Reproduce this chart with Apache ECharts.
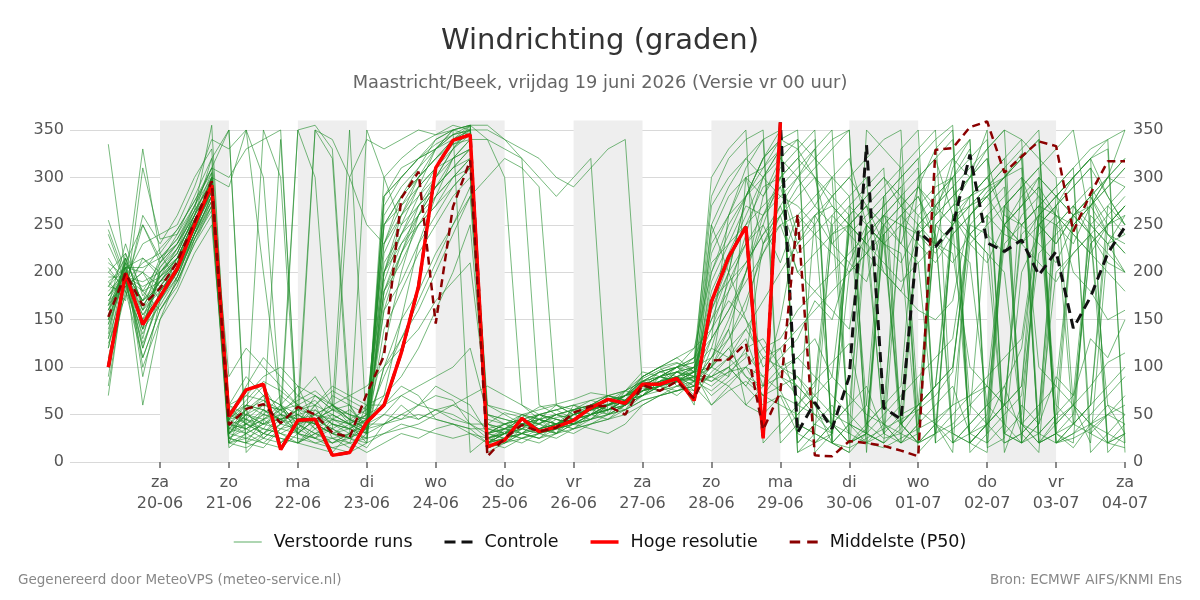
<!DOCTYPE html>
<html>
<head>
<meta charset="utf-8">
<script src="https://cdn.jsdelivr.net/npm/echarts@6/dist/echarts.min.js"></script>
<style>
html, body { margin: 0; padding: 0; background: #fff; }
#chart { width: 1200px; height: 600px; }
</style>
</head>
<body>
<div id="chart"></div>
<script>
// 6-uurlijkse waarden vanaf vr 19-06 06:00 t/m za 04-07 00:00 (uren t.o.v. za 20-06 00:00)
var firstHour = -18;
var stepHours = 6;
var dayTicks = [0, 24, 48, 72, 96, 120, 144, 168, 192, 216, 240, 264, 288, 312, 336];
var shadedDays = [0, 2, 4, 6, 8, 10, 12];
var yTicks = [0, 50, 100, 150, 200, 250, 300, 350];
var dayNames = ['zo', 'ma', 'di', 'wo', 'do', 'vr', 'za'];

var hogeResolutie = [100, 199, 145, 174, 204, 250, 292, 48, 76, 82, 13, 44, 45, 7, 10, 42, 60, 115, 185, 310,
    339, 345, 16, 23, 46, 32, 37, 44, 57, 66, 62, 82, 82, 88, 65, 169, 216, 248, 25, 358];

var controle = [100, 199, 145, 174, 204, 250, 292, 48, 76, 82, 13, 44, 45, 7, 10, 42, 60, 115, 185, 310,
    339, 345, 16, 23, 46, 32, 37, 44, 57, 66, 62, 82, 82, 88, 65, 169, 216, 248, 25, 358,
    31, 63, 35, 90, 334, 57, 45, 243, 227, 248, 324, 231, 222, 234, 197, 222, 141, 174, 220, 248];

var middelste = [153, 199, 165, 183, 211, 253, 296, 39, 56, 61, 41, 58, 50, 31, 26, 72, 112, 278, 306, 146,
    269, 318, 6, 25, 39, 32, 36, 52, 59, 59, 50, 81, 75, 85, 67, 107, 108, 125, 34, 74,
    261, 7, 6, 22, 20, 17, 12, 6, 329, 331, 353, 359, 305, 322, 338, 333, 243, 283, 317, 317];

var run01 = [175,195,160,190,215,255,290, 45,60,55,40,35,50,30,25,40, 70,150,230,280,320,340, 20,30,45,35,40,50,60,55,65,80,85,90,70, 95,110,130,80,150, 250,270,300,20,35,240,260,280,230,310,340,15,25,200,240,260,250,270,300,290];
var run02 = [140,200,120,180,205,245,300, 30,55,70,20,40,60,25,15,30, 40,60,45,55,50,40, 30,25,40,35,30,45,55,60,70,75,80,95,85, 110,140,200,260,290, 310,330,20,40,60,280,300,320,20,35,50,260,240,230,250,270,200,180,150,160];
var run03 = [200,185,250,210,230,270,310, 350,20,45,60,30,55,40,35,45, 120,200,260,300,330,355, 15,25,35,40,30,50,55,65,60,85,80,90,75, 120,180,240,300,330, 20,40,60,30,350,330,310,60,80,100,250,240,220,260,280,30,15,40,60,50];
var run04 = [160,210,90,170,200,240,280, 20,60,80,50,45,40,70,60,30, 180,230,250,270,290,310, 40,35,30,25,40,45,60,55,70,80,75,85,90, 80,95,100,70,60, 50,70,90,240,260,280,40,20,30,250,270,290,310,20,40,200,220,240,60,30];
var run05 = [120,190,330,220,190,230,270, 40,35,50,70,55,35,20,30,350, 300,250,270,290,310,330, 50,40,30,45,60,55,50,70,65,90,100,80,75, 200,250,280,310,340, 350,10,30,200,220,250,270,290,330,350,20,40,80,120,250,270,300,320,280,250];
var run06 = [190,205,140,200,220,260,300, 60,90,70,60,50,35,45,40,50, 60,80,70,45,40,35, 35,30,25,30,35,40,45,50,60,70,80,85,95, 100,90,120,130,100, 90,70,50,40,30,20,35,260,280,300,60,40,20,30,50,270,290,310,20,30];
var run07 = [245,195,180,210,240,280,320, 25,40,30,45,55,60,50,40,20, 200,250,290,330,350,10, 25,30,50,40,35,55,60,50,75,70,85,90,60, 240,280,300,230,260, 280,300,230,250,270,200,180,240,260,280,300,320,30,50,250,230,260,270,240,230];
var run08 = [100,180,110,160,190,230,260, 15,30,20,35,40,25,15,10,20, 30,40,35,30,25,30, 20,15,25,20,30,35,40,45,50,60,70,75,80, 90,100,80,60,70, 60,50,40,30,20,15,25,35,45,60,70,80,60,40,30,20,25,35,50,40];
var run09 = [180,200,170,195,225,265,355, 30,45,60,55,40,30,25,20,60, 230,270,300,320,340,355, 10,20,30,25,35,40,45,55,60,75,85,95,100, 150,200,230,260,280, 300,320,340,350,10,260,250,240,230,220,100,80,60,250,270,290,310,330,340,10];
var run10 = [150,205,200,185,210,250,285, 90,120,100,80,60,70,55,50,45, 180,210,250,280,300,320, 60,50,40,45,50,55,60,65,70,85,95,100,110, 130,160,190,220,250, 200,180,160,140,250,270,290,20,40,60,230,250,270,290,100,80,60,40,30,20];
var run11 = [130,215,100,150,180,220,250, 35,50,45,30,20,15,10,30,45, 190,240,280,310,335,345, 20,30,35,45,40,35,50,60,55,80,90,85,100, 160,200,280,320,350, 10,30,250,270,290,310,40,60,80,240,260,280,300,320,20,40,60,230,250,270];
var run12 = [165,190,150,175,200,235,275, 50,70,65,55,45,50,60,45,35, 100,150,180,220,250,280, 30,35,40,45,50,45,55,60,65,70,75,80,90, 70,85,100,90,110, 130,170,150,210,190,250,230,290,260,320,300,350,10,60,40,90,70,130,110,150];
var run13 = [210,195,230,240,250,290,340, 330,350,300,60,40,350,320,40,50, 250,280,300,320,340,350, 30,40,35,50,55,45,60,70,65,80,90,100,95, 220,260,310,340,20, 40,30,20,260,280,300,270,250,230,210,240,260,20,30,50,280,300,320,10,30];
var run14 = [70,200,130,200,215,250,300, 40,45,30,25,20,30,35,25,15, 40,50,60,55,45,40, 40,52,47,58,61,66,73,70,62,88,97,104,99, 90,80,60,50,70, 30,20,40,60,80,30,20,40,250,230,210,60,40,20,30,50,270,250,230,200];
var run15 = [185,180,260,230,260,300,330, 60,50,40,340,30,45,55,350,30, 160,220,270,300,330,350, 20,35,50,45,30,60,55,65,75,85,80,95,90, 180,220,260,300,330, 340,320,300,280,60,40,20,250,270,300,330,20,40,300,280,260,240,220,250,270];
var run16 = [155,210,180,190,210,250,290, 45,35,25,40,55,65,45,35,25, 260,290,310,330,345,350, 350,340,320,300,280,300,320,50,60,70,90,85,95, 300,330,350,20,40, 60,80,260,240,220,200,180,160,150,170,260,280,300,320,340,20,30,50,70,90];
var run17 = [110,185,200,170,195,240,280, 25,20,15,35,50,40,30,20,10, 20,30,25,35,40,30, 25,20,30,35,40,35,45,50,55,65,70,80,85, 90,110,140,170,200, 230,260,280,300,320,340,350,10,30,260,270,280,250,230,260,280,300,30,50,70];
var run18 = [230,190,210,220,245,275,305, 50,80,110,90,70,60,75,65,55, 200,240,270,290,310,320, 45,40,50,55,60,50,55,65,70,75,85,90,100, 140,190,230,250,210, 260,240,220,200,240,260,280,300,320,260,240,220,200,40,60,80,250,270,290,310];
var run19 = [90,200,140,165,195,240,295, 30,50,40,55,60,350,340,300,250, 230,260,280,300,320,330, 40,30,35,50,45,40,60,55,65,70,85,90,80, 250,290,320,300,280, 270,250,40,20,30,280,300,320,340,355,20,40,60,80,300,280,260,240,210,200];
var run20 = [200,220,160,210,230,265,295, 40,30,55,45,35,25,20,30,40, 50,70,60,80,70,60, 30,40,45,30,35,50,55,60,65,80,90,85,95, 60,75,85,70,95, 110,130,90,70,50,40,30,20,250,270,280,290,300,310,20,30,40,60,80,100];
var run21 = [175,200,155,185,205,245,275, 35,55,65,50,40,45,50,40,30, 140,180,220,250,280,300, 25,30,40,35,45,40,50,55,60,75,80,90,85, 110,130,160,230,270, 300,330,350,20,40,60,250,230,210,240,260,280,300,320,340,20,30,40,50,60];
var run22 = [195,195,110,160,190,235,265, 20,25,35,30,25,20,15,20,25, 30,35,40,50,60,70, 80,70,60,50,45,40,35,30,40,60,70,75,80, 100,120,90,70,80, 90,60,40,20,30,50,70,90,110,130,250,270,290,40,20,30,260,280,240,220];
var run23 = [165,230,175,205,225,255,285, 55,45,35,60,80,70,55,45,35, 250,280,300,320,335,340, 340,330,320,60,50,40,45,60,70,90,100,110,95, 270,300,320,340,350, 10,20,30,270,250,230,210,250,270,290,310,330,350,20,270,260,240,220,200,180];
var run24 = [125,175,215,195,215,255,290, 40,60,50,45,30,25,35,45,55, 210,240,260,280,300,310, 20,25,30,40,50,45,55,50,60,70,80,75,85, 100,140,60,80,90, 70,50,30,250,230,260,280,40,60,80,30,20,270,290,310,330,350,250,230,240];
var run25 = [145,195,190,200,220,260,320, 350,10,30,50,70,90,60,40,30, 100,130,160,200,240,280, 300,320,310,290,60,50,55,60,70,80,90,100,110, 150,180,210,240,270, 220,240,260,280,300,60,40,20,300,320,340,30,50,70,220,240,260,280,300,320];
var run26 = [185,215,165,190,210,250,285, 45,65,85,75,60,50,40,35,45, 90,130,170,210,250,290, 30,35,45,40,50,55,60,70,75,95,90,100,105, 250,200,150,100,120, 140,160,180,200,220,240,40,20,30,50,70,90,110,130,260,280,300,320,340,350];
var run27 = [160,190,125,170,200,240,270, 30,40,55,45,50,40,30,25,35, 40,50,45,55,60,50, 35,30,40,45,40,50,55,65,60,75,80,90,95, 85,100,115,90,75, 40,30,20,15,25,35,45,55,40,30,20,10,250,270,290,260,40,30,20,15];
var run28 = [335,200,170,215,235,270,300, 60,40,350,300,20,40,60,50,40, 270,300,320,340,350,355, 355,340,330,320,300,290,310,330,340,80,90,100,120, 200,240,280,320,340, 330,300,270,250,230,210,190,210,230,250,270,290,310,330,350,20,40,60,250,270];
var run29 = [150,205,145,195,210,250,280, 25,35,45,55,65,75,60,45,35, 170,220,260,290,320,340, 50,45,40,35,40,45,50,60,75,85,95,100,90, 90,100,80,110,120, 60,85,105,125,40,25,30,55,70,95,260,285,300,325,20,45,60,80,105,115];
var run30 = [170,200,160,180,205,245,285, 50,45,40,35,30,45,55,60,50, 200,230,260,290,310,330, 25,32,38,41,47,50,56,61,64,78,76,84,88, 100,130,170,220,260, 290,310,330,350,20,40,60,240,260,280,300,320,250,230,210,190,220,240,260,280];
var run31 = [240,190,120,175,215,245,300, 290,350,200,60,30,25,45,55,40, 280,300,320,330,350,355, 20,25,30,45,35,40,60,70,65,85,95,90,80, 130,260,300,280,320, 300,270,250,40,20,30,330,350,20,260,230,210,250,280,300,40,60,20,230,260];
var run32 = [135,220,180,160,185,235,270, 20,15,25,40,350,355,330,60,35, 50,45,60,70,65,40, 25,20,35,30,40,45,50,55,65,70,80,70,85, 75,90,300,310,330, 20,40,30,250,270,230,220,20,40,10,280,300,260,250,270,30,20,280,300,350];
var run33 = [205,180,140,205,230,260,290, 30,25,20,15,30,45,35,300,340, 330,340,350,345,355,350, 30,40,45,50,40,55,65,60,70,80,95,100,85, 190,230,270,260,300, 240,260,230,210,250,30,50,60,270,290,240,220,30,20,40,250,270,240,20,40];
var run34 = [80,195,170,185,210,245,295, 60,70,90,100,80,40,30,35,50, 230,280,310,340,350,345, 15,20,25,30,35,30,40,50,55,65,70,75,80, 60,80,100,120,90, 80,60,20,10,30,240,260,280,240,20,40,60,80,30,10,250,270,290,260,240];
var run35 = [190,170,310,235,240,270,310, 40,55,25,20,35,60,80,70,60, 70,90,120,160,200,250, 40,35,30,25,30,40,50,45,55,70,80,95,110, 280,320,340,350,30, 50,70,240,250,270,290,310,330,350,20,40,60,230,250,270,290,310,10,30,50];
var run36 = [160,200,60,150,195,240,275, 35,30,40,45,50,55,40,30,25, 280,310,320,330,340,350, 30,25,20,30,25,35,40,45,60,75,85,90,100, 110,150,200,250,300, 320,340,20,10,250,230,250,270,290,300,20,40,60,240,260,250,230,270,290,310];
var run37 = [175,205,205,215,235,265,295, 45,50,60,55,350,300,60,45,40, 40,45,50,45,40,35, 20,30,40,50,45,40,50,60,65,80,90,95,85, 210,230,250,270,290, 230,250,280,300,270,250,20,40,250,270,300,330,350,340,320,300,60,40,20,30];
var run38 = [145,215,165,190,215,255,290, 25,20,30,40,60,45,35,25,20, 200,260,300,330,345,350, 25,35,40,35,40,50,45,60,70,75,80,85,90, 85,95,110,230,250, 260,280,300,320,250,230,40,60,80,100,240,260,280,300,250,230,260,280,250,270];
var run39 = [215,185,200,225,245,275,310, 300,330,340,350,20,35,50,40,30, 180,220,250,270,300,320, 35,40,45,40,50,55,60,65,70,90,100,105,95, 170,190,210,240,260, 200,220,240,260,280,300,280,260,240,30,20,40,270,290,310,20,40,60,270,250];
var run40 = [130,190,155,175,205,240,280, 50,40,35,30,40,50,60,70,80, 100,120,140,170,190,210, 60,55,50,45,40,45,50,60,70,85,90,95,100, 120,110,90,80,100, 110,90,70,50,30,20,40,60,80,260,280,300,320,340,30,50,70,250,270,290];
var run41 = [255,200,150,200,225,255,280, 55,40,30,25,20,30,40,35,30, 250,270,290,310,320,330, 20,25,30,35,30,40,50,55,60,80,75,90,95, 100,200,280,320,340, 30,260,270,250,230,40,20,30,280,300,320,340,30,20,260,280,300,320,330,20];
var run42 = [170,185,135,180,205,250,300, 40,35,45,50,45,40,30,40,60, 60,70,80,90,100,120, 50,45,40,50,55,60,65,70,75,90,100,110,120, 140,170,150,120,130, 160,180,200,220,240,260,230,210,30,40,60,80,250,270,300,280,260,240,220,200];
var run43 = [185,205,215,200,220,260,305, 30,50,70,60,40,30,20,25,35, 280,300,320,335,345,355, 340,300,60,45,40,50,55,60,70,85,90,95,90, 160,210,250,290,300, 320,300,280,260,40,60,80,300,320,340,10,30,250,270,290,60,40,260,240,220];
var run44 = [165,200,170,190,200,245,285, 20,30,40,50,30,20,25,30,40, 220,260,290,310,330,345, 20,30,25,35,40,45,55,60,65,75,90,85,95, 130,160,200,280,310, 330,350,20,40,30,20,260,240,220,250,280,300,320,40,20,30,50,230,250,260];
var run45 = [120,210,250,215,230,260,290, 50,60,55,45,40,70,60,50,45, 160,190,230,260,290,310, 30,35,45,50,55,60,50,55,65,80,85,100,105, 230,260,280,300,320, 340,20,40,60,250,270,290,310,40,20,30,50,270,250,230,210,250,270,300,320];
var run46 = [150,195,185,195,215,255,295, 35,40,50,45,55,50,45,40,35, 300,320,335,345,350,355, 25,30,35,30,40,45,50,55,65,75,80,85,90, 100,120,140,110,100, 80,60,40,20,30,250,270,290,270,250,30,40,60,80,250,270,290,310,280,250];

var runs = [run01, run02, run03, run04, run05, run06, run07, run08, run09, run10,
    run11, run12, run13, run14, run15, run16, run17, run18, run19, run20,
    run21, run22, run23, run24, run25, run26, run27, run28, run29, run30,
    run31, run32, run33, run34, run35, run36, run37, run38, run39, run40,
    run41, run42, run43, run44, run45, run46];

var fontFamily = 'DejaVu Sans';
var baseTime = Date.UTC(2026, 5, 20);
var runColor = 'rgba(30,140,40,0.6)';

function pad(n) {
    return (n < 10 ? '0' : '') + n;
}
function dayLabel(h) {
    var d = new Date(baseTime + h * 3600 * 1000);
    return dayNames[d.getUTCDay()] + '\n' + pad(d.getUTCDate()) + '-' + pad(d.getUTCMonth() + 1);
}
function toPoints(values) {
    return values.map(function (v, i) {
        return [firstHour + i * stepHours, v];
    });
}

var chart = echarts.init(document.getElementById('chart'), null, { renderer: 'canvas' });

var series = [];
series.push({
    type: 'line',
    data: [],
    silent: true,
    markArea: {
        silent: true,
        itemStyle: { color: '#eeeeee' },
        data: shadedDays.map(function (d) {
            return [{ xAxis: d * 24 }, { xAxis: (d + 1) * 24 }];
        })
    }
});
runs.forEach(function (r) {
    series.push({
        name: 'Verstoorde runs',
        type: 'line',
        data: toPoints(r),
        symbol: 'none',
        silent: true,
        lineStyle: { color: runColor, width: 1 },
        itemStyle: { color: runColor }
    });
});
series.push({
    name: 'Controle',
    type: 'line',
    data: toPoints(controle),
    symbol: 'none',
    lineStyle: { color: '#111111', width: 3, type: [10, 6] },
    itemStyle: { color: '#111111' }
});
series.push({
    name: 'Hoge resolutie',
    type: 'line',
    data: toPoints(hogeResolutie),
    symbol: 'none',
    lineStyle: { color: '#ff0000', width: 3.5 },
    itemStyle: { color: '#ff0000' }
});
series.push({
    name: 'Middelste (P50)',
    type: 'line',
    data: toPoints(middelste),
    symbol: 'none',
    lineStyle: { color: '#8b0000', width: 2.5, type: [8, 5] },
    itemStyle: { color: '#8b0000' }
});

var yLabel = { fontSize: 16, color: '#555', fontFamily: fontFamily, customValues: yTicks };

chart.setOption({
    animation: false,
    backgroundColor: '#fff',
    grid: { left: 70, right: 75, top: 120.5, bottom: 138 },
    xAxis: {
        type: 'value',
        min: -31.34,
        max: 336,
        axisLine: { show: false },
        splitLine: { show: false },
        axisTick: { customValues: dayTicks, length: 6, lineStyle: { color: '#666', width: 1.5 } },
        axisLabel: {
            customValues: dayTicks,
            formatter: dayLabel,
            fontSize: 16,
            lineHeight: 21,
            color: '#555',
            fontFamily: fontFamily,
            margin: 10
        }
    },
    yAxis: [{
        type: 'value',
        min: 0,
        max: 360,
        position: 'left',
        axisLine: { show: false },
        axisTick: { show: false, customValues: yTicks },
        splitLine: { lineStyle: { color: '#d9d9d9', width: 1 } },
        axisLabel: Object.assign({ margin: 6 }, yLabel)
    }, {
        type: 'value',
        min: 0,
        max: 360,
        position: 'right',
        axisLine: { show: false },
        axisTick: { show: false, customValues: yTicks },
        splitLine: { show: false },
        axisLabel: Object.assign({ margin: 8 }, yLabel)
    }],
    legend: {
        top: 528,
        left: 'center',
        itemWidth: 28,
        itemHeight: 14,
        itemGap: 32,
        itemStyle: { borderWidth: 0 },
        textStyle: { fontSize: 17.5, color: '#111', fontFamily: fontFamily, padding: [0, 0, 0, 7] },
        data: [
            { name: 'Verstoorde runs', icon: 'path://M0,0h28v1.2h-28z' },
            { name: 'Controle', icon: 'path://M0,0h11v3h-11z M17,0h11v3h-11z' },
            { name: 'Hoge resolutie', icon: 'path://M0,0h28v3.5h-28z' },
            { name: 'Middelste (P50)', icon: 'path://M0,0h9v2.5h-9z M15,0h9v2.5h-9z' }
        ]
    },
    graphic: [{
        type: 'text',
        style: { text: 'Windrichting (graden)', x: 600, y: 41, align: 'center', verticalAlign: 'middle',
            font: '29px "DejaVu Sans"', fill: '#333' }
    }, {
        type: 'text',
        style: { text: 'Maastricht/Beek, vrijdag 19 juni 2026 (Versie vr 00 uur)', x: 600, y: 83,
            align: 'center', verticalAlign: 'middle', font: '17.8px "DejaVu Sans"', fill: '#666' }
    }, {
        type: 'text',
        style: { text: 'Gegenereerd door MeteoVPS (meteo-service.nl)', x: 18, y: 580,
            align: 'left', verticalAlign: 'middle', font: '13.5px "DejaVu Sans"', fill: '#888' }
    }, {
        type: 'text',
        style: { text: 'Bron: ECMWF AIFS/KNMI Ens', x: 1182, y: 580,
            align: 'right', verticalAlign: 'middle', font: '13.5px "DejaVu Sans"', fill: '#888' }
    }],
    series: series
});
</script>
</body>
</html>
